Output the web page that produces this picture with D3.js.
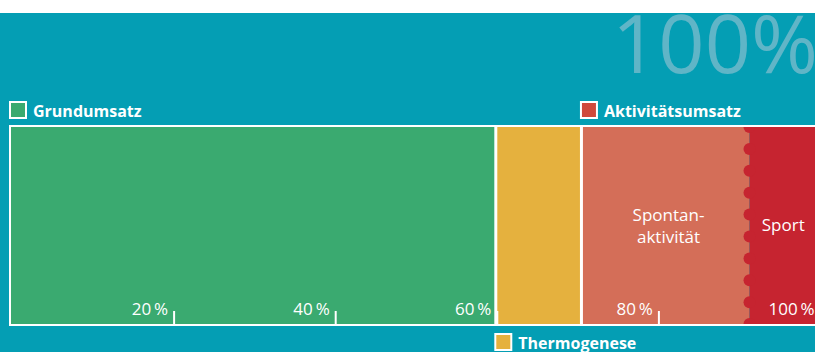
<!DOCTYPE html>
<html><head><meta charset="utf-8">
<script src="https://cdn.jsdelivr.net/npm/d3@7"></script>
<style>
html,body{margin:0;padding:0;background:#fff;}
svg{display:block;font-family:"Open Sans",sans-serif;}
</style></head>
<body><div id="chart"></div>
<script>
// ---- data ----
const segments = ["Grundumsatz", "Thermogenese", "Spontanaktivität", "Sport"];
const values = [60, 10.6, 20.8, 8.6];
const segColors = ["#3AAA70", "#E5B13E", "#D46E58", "#C62430"];
const tickValues = [20, 40, 60, 80, 100];
const tickLabels = ["20\u2009%", "40\u2009%", "60\u2009%", "80\u2009%", "100\u2009%"];
const legendNames = ["Grundumsatz", "Thermogenese", "Aktivitätsumsatz"];
const legendStartIdx = [0, 1, 2];
const legendColors = ["#3AAA70", "#E5B13E", "#D0493B"];
const legendPos = ["top", "bottom", "top"];
const innerLabels = [["Spontan-", "aktivität"], ["Sport"]];
const innerLabelIdx = [2, 3];
const bigTitle = "100%";

(function () {
const W = 815, H = 352;
const svg = d3.select("#chart").append("svg").attr("width", W).attr("height", H);

svg.append("rect").attr("x", 0).attr("y", 13).attr("width", W).attr("height", H - 13).attr("fill", "#049EB4");

const x = d3.scaleLinear().domain([0, 100]).range([11, 819]);
const barTop = 127, barBottom = 324;

let acc = 0;
const segs = values.map((v, i) => { const s = { name: segments[i], start: acc, end: acc + v, color: segColors[i] }; acc += v; return s; });

// big title
svg.append("text").attr("x", 612).attr("y", 73).attr("font-size", 81).attr("font-weight", 400)
  .attr("fill", "#60B5C7").text(bigTitle);

// bar
svg.append("clipPath").attr("id", "barclip").append("rect")
  .attr("x", x(0)).attr("y", barTop).attr("width", x(100) - x(0)).attr("height", barBottom - barTop);
const bar = svg.append("g").attr("clip-path", "url(#barclip)");
bar.selectAll("rect.seg").data(segs).join("rect").attr("class", "seg")
  .attr("x", d => x(d.start)).attr("y", barTop).attr("width", d => x(d.end) - x(d.start)).attr("height", barBottom - barTop)
  .attr("fill", d => d.color);

// scalloped edge for last segment
const sport = segs[3];
const r = 6, step = 21.9;
const bumps = d3.range(0, 10).map(k => barTop + k * step);
bar.selectAll("circle.bump").data(bumps).join("circle").attr("class", "bump")
  .attr("cx", x(sport.start)).attr("cy", d => d).attr("r", r).attr("fill", sport.color);

// white dividers
bar.selectAll("line.div").data([segs[0].end, segs[1].end]).join("line").attr("class", "div")
  .attr("x1", d => x(d)).attr("x2", d => x(d)).attr("y1", barTop).attr("y2", barBottom)
  .attr("stroke", "#fff").attr("stroke-width", 3);

// border
svg.append("rect").attr("x", x(0) - 1).attr("y", barTop - 1).attr("width", x(100) - x(0) + 2).attr("height", barBottom - barTop + 2)
  .attr("fill", "none").attr("stroke", "#fff").attr("stroke-width", 2);

// axis ticks
const axis = d3.axisBottom(x).tickValues(tickValues).tickSizeInner(-13).tickSizeOuter(0).tickFormat((d, i) => tickLabels[i]);
const ax = svg.append("g").attr("transform", `translate(0,${barBottom})`).call(axis);
ax.select(".domain").remove();
ax.selectAll(".tick line").attr("stroke", "#fff").attr("stroke-width", 2).attr("transform", "translate(1,0)");
ax.selectAll(".tick text").attr("fill", "#fff").attr("font-size", 17).attr("font-family", "Open Sans")
  .attr("text-anchor", "end").attr("x", -5).attr("y", -9.5).attr("dy", null);

// legend
const lg = svg.selectAll("g.leg").data(legendNames.map((n, i) => ({ n, i }))).join("g").attr("class", "leg")
  .attr("transform", d => {
    const sx = d.i === 0 ? x(0) - 1 : x(segs[legendStartIdx[d.i]].start) - 0.5;
    const sy = legendPos[d.i] === "top" ? 102 : 334;
    return `translate(${sx},${sy})`;
  });
lg.append("rect").attr("x", 0).attr("y", 0).attr("width", 16).attr("height", 16)
  .attr("fill", d => legendColors[d.i]).attr("stroke", "#fff").attr("stroke-width", 2);
lg.append("text").attr("x", 23).attr("y", 14.8).attr("fill", "#fff").attr("font-size", 16).attr("font-weight", 700)
  .text(d => d.n);

// inner labels
innerLabels.forEach((lines, j) => {
  const s = segs[innerLabelIdx[j]];
  const cx = (x(s.start) + Math.min(x(s.end), W)) / 2 + (j === 0 ? 3 : 1);
  const y0 = lines.length === 2 ? 221 : 231;
  const t = svg.append("text").attr("text-anchor", "middle").attr("fill", "#fff").attr("font-size", 17);
  lines.forEach((l, k) => t.append("tspan").attr("x", cx).attr("y", y0 + k * 22).text(l));
});
})();
</script></body></html>
